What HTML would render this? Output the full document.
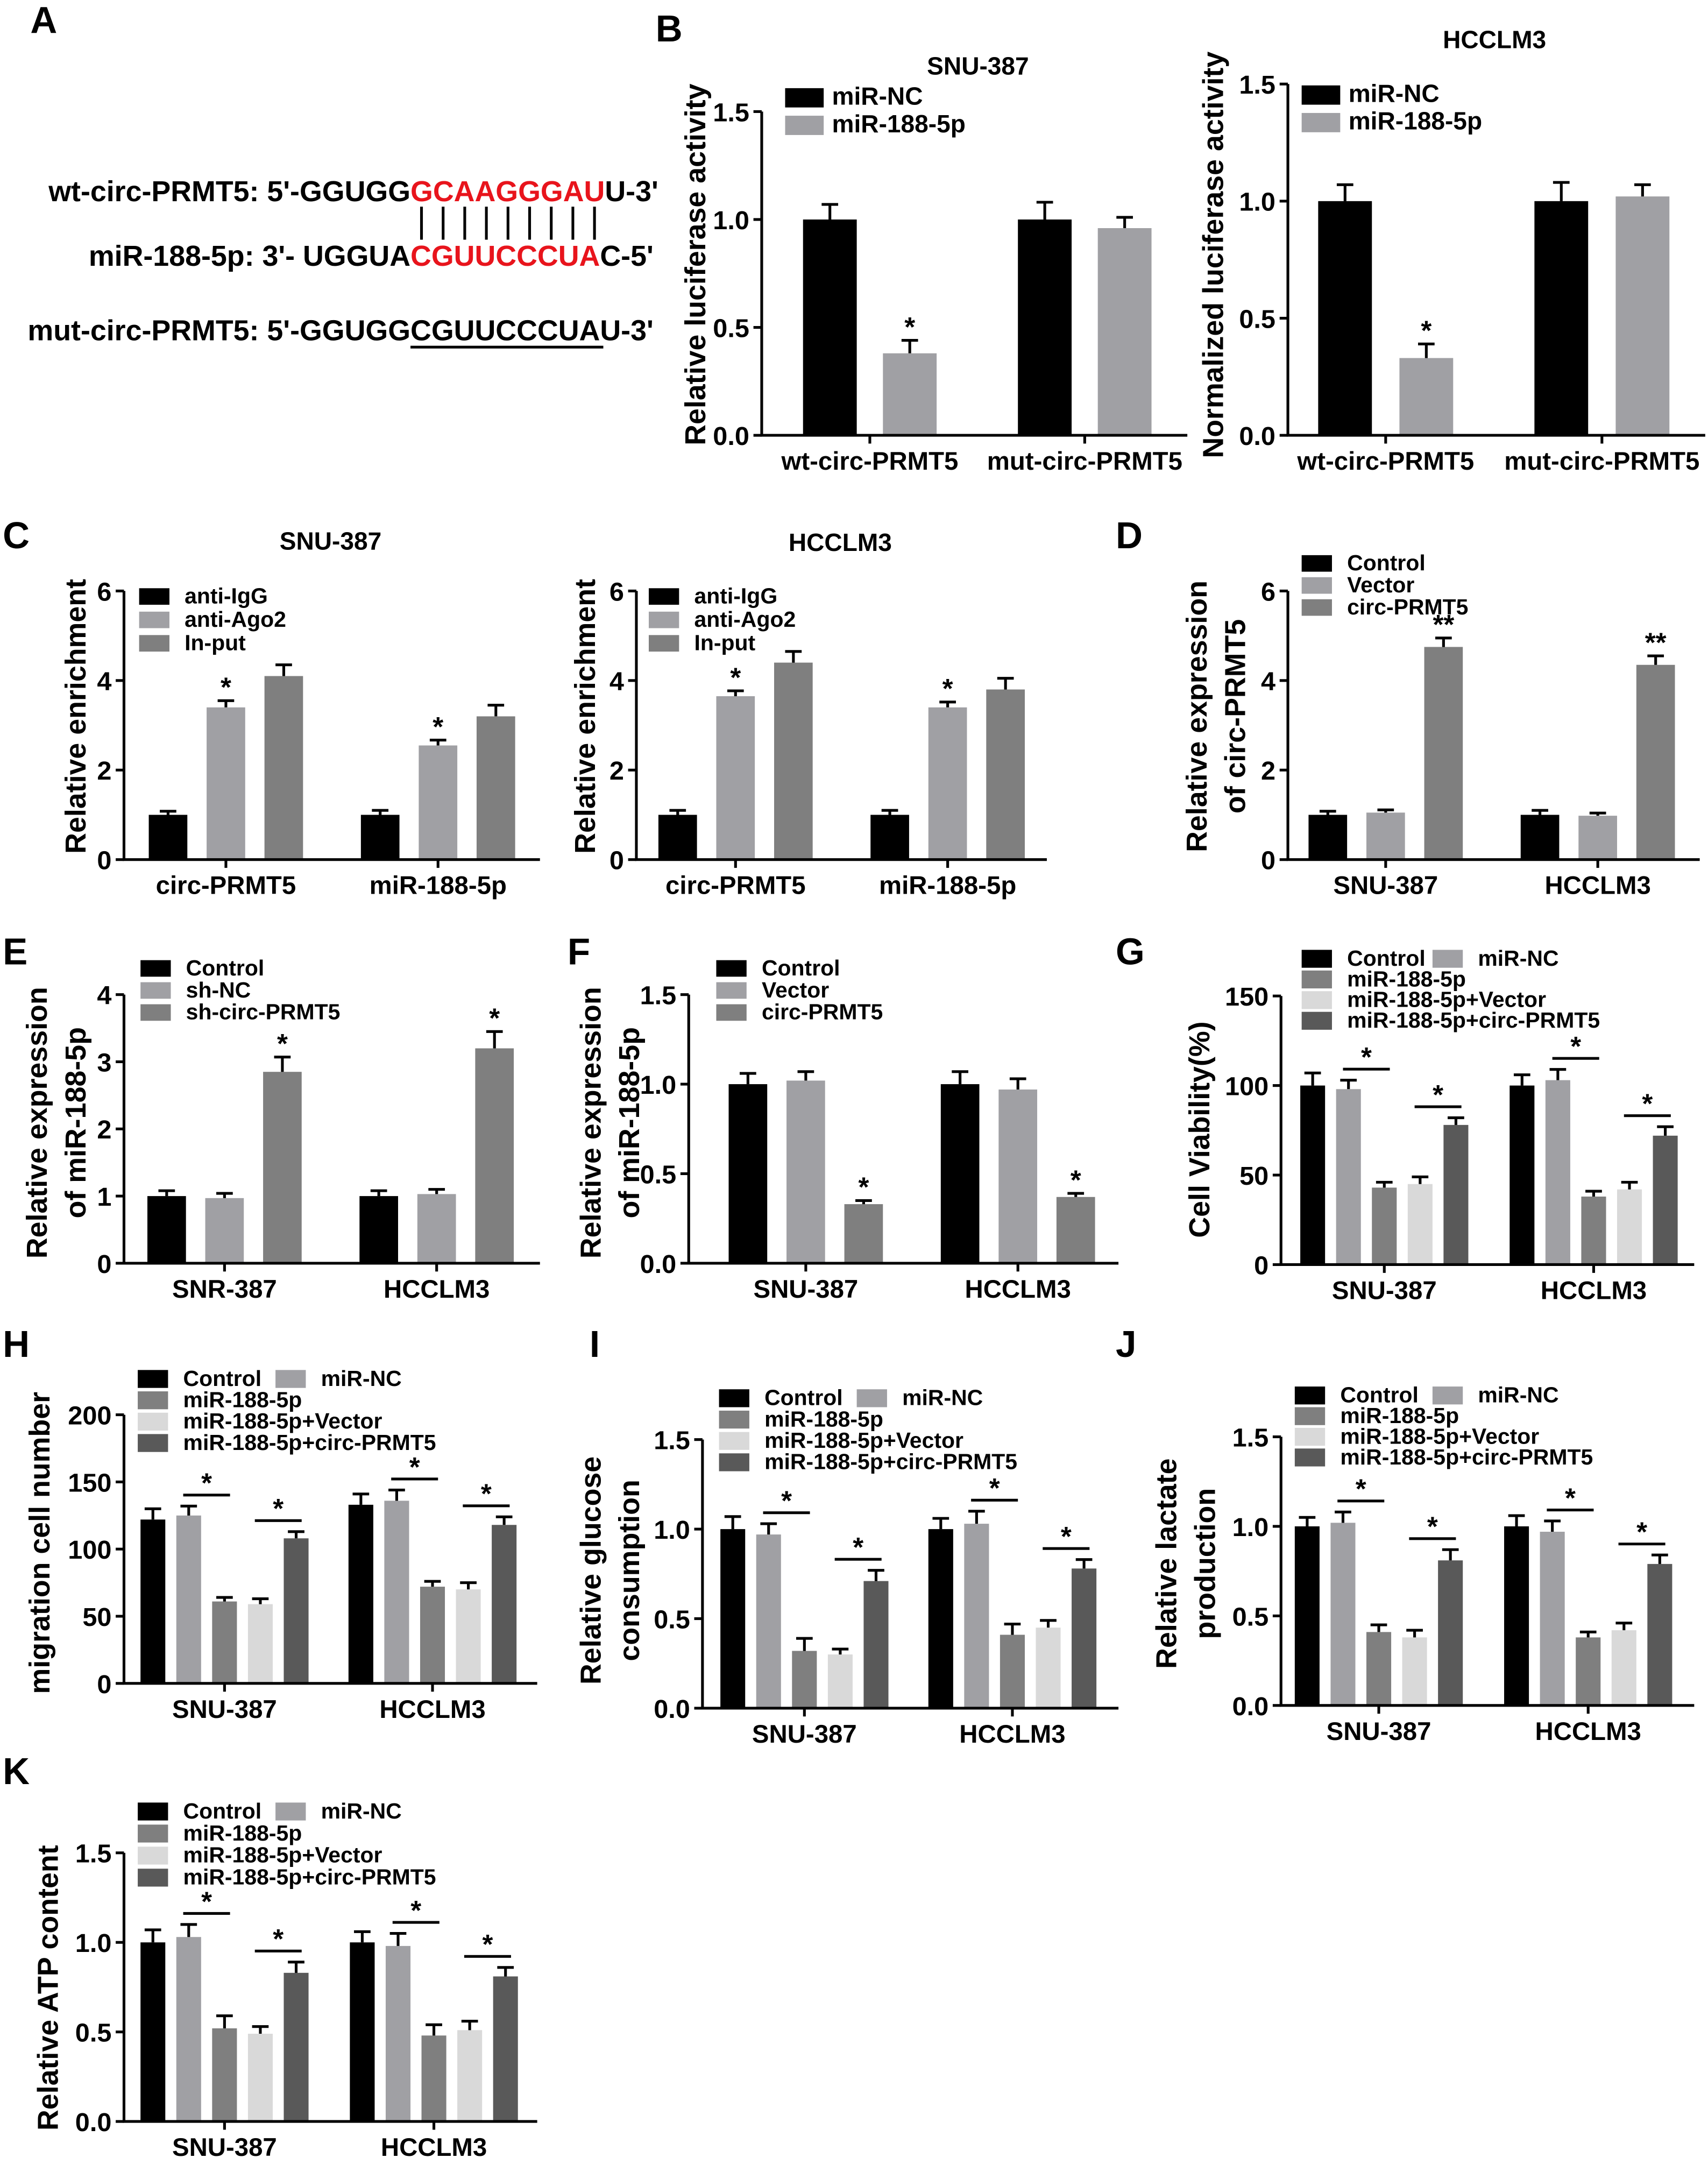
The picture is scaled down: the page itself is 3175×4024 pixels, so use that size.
<!DOCTYPE html>
<html><head><meta charset="utf-8"><style>
html,body{margin:0;padding:0;background:#fff}
svg{display:block}
text{font-family:"Liberation Sans",Arial,sans-serif;font-weight:bold;fill:#000}
</style></head><body>
<svg id="fig" width="3175" height="4024" viewBox="0 0 1240 1571.6" xmlns="http://www.w3.org/2000/svg">
<g font-size="21">
<text x="22" y="24" font-size="27">A</text>
<text x="298" y="146" text-anchor="end">wt-circ-PRMT5: 5'-GGUGG</text>
<text x="298" y="146"><tspan style="fill:#e8141c">GCAAGGGAU</tspan>U-3'</text>
<g id="pairs" stroke="#000" stroke-width="2"></g>
<text x="298" y="193" text-anchor="end">miR-188-5p: 3'- UGGUA</text>
<text x="298" y="193"><tspan style="fill:#e8141c">CGUUCCCUA</tspan>C-5'</text>
<text x="298" y="247" text-anchor="end">mut-circ-PRMT5: 5'-GGUGG</text>
<text x="298" y="247">CGUUCCCUAU-3'</text>
<line x1="298" y1="252" x2="438" y2="252" stroke="#000" stroke-width="2"/>
</g>
</svg>
<script>
const NS="http://www.w3.org/2000/svg";
const svg=document.getElementById('fig');
function mk(tag,attrs,parent){const e=document.createElementNS(NS,tag);for(const k in attrs)e.setAttribute(k,attrs[k]);(parent||svg).appendChild(e);return e;}
const pairs=document.getElementById('pairs');
for(let i=0;i<9;i++){const l=mk('line',{x1:306+i*15.7,x2:306+i*15.7,y1:150,y2:174},pairs);

}

const C2=['#000','#a0a0a4'];
const C3=['#000','#a0a0a4','#7f7f7f'];
const C5=['#000','#a0a0a4','#7f7f7f','#d9d9d9','#595959'];
const L5=['Control','miR-NC','miR-188-5p','miR-188-5p+Vector','miR-188-5p+circ-PRMT5'];

const bGroups=['wt-circ-PRMT5','mut-circ-PRMT5'];
const b1Vals=[[1.0,0.38],[1.0,0.96]]; const b1Err=[[0.07,0.06],[0.08,0.05]];
const b2Vals=[[1.0,0.33],[1.0,1.02]]; const b2Err=[[0.07,0.06],[0.08,0.05]];
const cGroups=['circ-PRMT5','miR-188-5p'];
const c1Vals=[[1.0,3.4,4.1],[1.0,2.55,3.2]]; const c1Err=[[0.08,0.15,0.25],[0.1,0.12,0.25]];
const c2Vals=[[1.0,3.65,4.4],[1.0,3.4,3.8]]; const c2Err=[[0.1,0.12,0.25],[0.1,0.12,0.25]];
const cellGroups=['SNU-387','HCCLM3'];
const dVals=[[1.0,1.05,4.75],[1.0,0.98,4.35]]; const dErr=[[0.08,0.06,0.2],[0.1,0.06,0.2]];
const eGroups=['SNR-387','HCCLM3'];
const eVals=[[1.0,0.97,2.85],[1.0,1.03,3.2]]; const eErr=[[0.08,0.07,0.22],[0.08,0.07,0.25]];
const fVals=[[1.0,1.02,0.33],[1.0,0.97,0.37]]; const fErr=[[0.06,0.05,0.02],[0.07,0.06,0.02]];
const gVals=[[100,98,43,45,78],[100,103,38,42,72]]; const gErr=[[7,5,3,4,4],[6,6,3,4,5]];
const hVals=[[122,125,61,59,108],[133,136,72,70,118]]; const hErr=[[8,7,3,4,5],[8,8,4,5,6]];
const iVals=[[1.0,0.97,0.32,0.30,0.71],[1.0,1.03,0.41,0.45,0.78]]; const iErr=[[0.07,0.06,0.07,0.03,0.06],[0.06,0.07,0.06,0.04,0.05]];
const jVals=[[1.0,1.02,0.41,0.38,0.81],[1.0,0.97,0.38,0.42,0.79]]; const jErr=[[0.05,0.06,0.04,0.04,0.06],[0.06,0.06,0.03,0.04,0.05]];
const kVals=[[1.0,1.03,0.52,0.49,0.83],[1.0,0.98,0.48,0.51,0.81]]; const kErr=[[0.07,0.07,0.07,0.04,0.06],[0.06,0.07,0.06,0.05,0.05]];
const t15=[0,0.5,1.0,1.5]; const t15L=['0.0','0.5','1.0','1.5'];
const t6=[0,2,4,6]; const t6L=['0','2','4','6'];
const t4=[0,1,2,3,4]; const t4L=['0','1','2','3','4'];
const t150=[0,50,100,150]; const t150L=['0','50','100','150'];
const t200=[0,50,100,150,200]; const t200L=['0','50','100','150','200'];

function chart(p){
  const g=mk('g',{});
  
  
  const ymax=p.ticks[p.ticks.length-1];
  const Y=v=>p.y0-(v/ymax)*(p.y0-p.ytop);
  p.vals.forEach((grp,gi)=>grp.forEach((v,si)=>{
    const x=p.gx[gi]+si*p.step;
    const r=mk('rect',{x:x,y:Y(v),width:p.bw,height:p.y0-Y(v),fill:p.colors[si]},g);
    
    
    const cx=x+p.bw/2, e=p.err[gi][si];
    const el=mk('path',{d:`M${cx} ${Y(v)} V${Y(v+e)} M${cx-6} ${Y(v+e)} H${cx+6}`,stroke:'#000','stroke-width':2,fill:'none'},g);
    
    
    const st=(p.stars[gi]||{})[si];
    if(st&&p.bw>25){
      const t=mk('text',{x:cx,y:Y(v+e)-3,'text-anchor':'middle','font-size':20},g);t.textContent=st;
      
      
    } else if(st){
      const xa=p.gx[gi]+(si-1)*p.step+p.bw/2-4;
      const ref=Math.max(v+e,grp[si-1]+p.err[gi][si-1]);
      const ly=Y(ref)-8;
      const ln=mk('line',{x1:xa,x2:cx+4,y1:ly,y2:ly,stroke:'#000','stroke-width':2},g);
      
      
      const t=mk('text',{x:(xa+cx+4)/2,y:ly-2,'text-anchor':'middle','font-size':20},g);t.textContent=st;
      
      
    }
  }));
  const ax=mk('path',{d:`M${p.ax} ${p.ytop} V${p.y0} H${p.xend}`,stroke:'#000','stroke-width':2,fill:'none'},g);
  
  
  p.ticks.forEach((t,i)=>{
    const tl=mk('line',{x1:p.ax-6,x2:p.ax,y1:Y(t),y2:Y(t),stroke:'#000','stroke-width':2},g);
    
    
    const tx=mk('text',{x:p.ax-9,y:Y(t)+7,'text-anchor':'end','font-size':19},g);tx.textContent=p.tickL[i];
    
    
  });
  p.groups.forEach((gn,gi)=>{
    const n=p.vals[gi].length, cx=p.gx[gi]+((n-1)*p.step+p.bw)/2;
    const tl=mk('line',{x1:cx,x2:cx,y1:p.y0,y2:p.y0+6,stroke:'#000','stroke-width':2},g);
    
    
    const tx=mk('text',{x:cx,y:p.y0+25,'text-anchor':'middle','font-size':18.5},g);tx.textContent=gn;
    
    
  });
  p.ylab.forEach((s,i)=>{
    const lx=p.ylx+i*28;
    const t=mk('text',{x:lx,y:p.ylc,'text-anchor':'middle','font-size':21,transform:`rotate(-90 ${lx} ${p.ylc})`},g);t.textContent=s;
    
    
  });
  if(p.title){const t=mk('text',{x:p.title[1],y:p.title[2],'text-anchor':'middle','font-size':18},g);t.textContent=p.title[0];
    
    }
  p.legend.forEach((it)=>{
    const r=mk('rect',{x:it[1],y:it[2]-it[4]/2-5,width:it[3]?28:22,height:it[4],fill:p.colors[it[0]]},g);
    
    
    const t=mk('text',{x:it[1]+(it[3]?34:33),y:it[2],'font-size':it[5]},g);t.textContent=it[6];
    
    
  });
  const L=mk('text',{x:p.letter[1],y:p.letter[2],'font-size':27},g);L.textContent=p.letter[0];
  
  
}
function leg5(x,y,x2,dy){return [[0,x,y,0,13,16,L5[0]],[1,x2,y,0,13,16,L5[1]],[2,x,y+dy,0,13,16,L5[2]],[3,x,y+2*dy,0,13,16,L5[3]],[4,x,y+3*dy,0,13,16,L5[4]]];}
function leg3(x,y,dy,labels){return labels.map((l,i)=>[i,x,y+i*dy,0,12,16,l]);}

chart({name:'chart-b-snu387',vals:b1Vals,err:b1Err,groups:bGroups,colors:C2,gx:[583,739],step:58,bw:39,ax:553,xend:862,y0:316,ytop:81,ticks:t15,tickL:t15L,stars:[{1:'*'}],ylab:['Relative luciferase activity'],ylx:512,ylc:192,title:['SNU-387',710,54],legend:[[0,570,76,1,14,18,'miR-NC'],[1,570,96,1,14,18,'miR-188-5p']],letter:['B',476,30]});
chart({name:'chart-b-hcclm3',vals:b2Vals,err:b2Err,groups:bGroups,colors:C2,gx:[957,1114],step:59,bw:39,ax:935,xend:1238,y0:316,ytop:61,ticks:t15,tickL:t15L,stars:[{1:'*'}],ylab:['Normalized luciferase activity'],ylx:888,ylc:185,title:['HCCLM3',1085,35],legend:[[0,945,74,1,14,18,'miR-NC'],[1,945,94,1,14,18,'miR-188-5p']],letter:['',0,0]});
chart({name:'chart-c-snu387',vals:c1Vals,err:c1Err,groups:cGroups,colors:C3,gx:[108,262],step:42,bw:28,ax:90,xend:392,y0:624,ytop:429,ticks:t6,tickL:t6L,stars:[{1:'*'},{1:'*'}],ylab:['Relative enrichment'],ylx:62,ylc:520,title:['SNU-387',240,399],legend:leg3(101,438,17,['anti-IgG','anti-Ago2','In-put']),letter:['C',2,398]});
chart({name:'chart-c-hcclm3',vals:c2Vals,err:c2Err,groups:cGroups,colors:C3,gx:[478,632],step:42,bw:28,ax:462,xend:760,y0:624,ytop:429,ticks:t6,tickL:t6L,stars:[{1:'*'},{1:'*'}],ylab:['Relative enrichment'],ylx:432,ylc:520,title:['HCCLM3',610,400],legend:leg3(471,438,17,['anti-IgG','anti-Ago2','In-put']),letter:['',0,0]});
chart({name:'chart-d',vals:dVals,err:dErr,groups:cellGroups,colors:C3,gx:[950,1104],step:42,bw:28,ax:935,xend:1234,y0:624,ytop:429,ticks:t6,tickL:t6L,stars:[{2:'**'},{2:'**'}],ylab:['Relative expression','of circ-PRMT5'],ylx:876,ylc:520,legend:leg3(945,414,16,['Control','Vector','circ-PRMT5']),letter:['D',810,398]});
chart({name:'chart-e',vals:eVals,err:eErr,groups:eGroups,colors:C3,gx:[107,261],step:42,bw:28,ax:90,xend:392,y0:917,ytop:722,ticks:t4,tickL:t4L,stars:[{2:'*'},{2:'*'}],ylab:['Relative expression','of miR-188-5p'],ylx:34,ylc:815,legend:leg3(102,708,16,['Control','sh-NC','sh-circ-PRMT5']),letter:['E',2,700]});
chart({name:'chart-f',vals:fVals,err:fErr,groups:cellGroups,colors:C3,gx:[529,683],step:42,bw:28,ax:500,xend:812,y0:917,ytop:722,ticks:t15,tickL:t15L,stars:[{2:'*'},{2:'*'}],ylab:['Relative expression','of miR-188-5p'],ylx:436,ylc:815,legend:leg3(520,708,16,['Control','Vector','circ-PRMT5']),letter:['F',412,700]});
chart({name:'chart-g',vals:gVals,err:gErr,groups:cellGroups,colors:C5,gx:[944,1096],step:26,bw:18,ax:930,xend:1230,y0:918,ytop:723,ticks:t150,tickL:t150L,stars:[{2:'*',4:'*'},{2:'*',4:'*'}],ylab:['Cell Viability(%)'],ylx:878,ylc:820,legend:leg5(945,701,1040,15),letter:['G',810,700]});
chart({name:'chart-h',vals:hVals,err:hErr,groups:cellGroups,colors:C5,gx:[102,253],step:26,bw:18,ax:90,xend:390,y0:1222,ytop:1027,ticks:t200,tickL:t200L,stars:[{2:'*',4:'*'},{2:'*',4:'*'}],ylab:['migration cell number'],ylx:36,ylc:1120,legend:leg5(100,1006,200,15.5),letter:['H',2,985]});
chart({name:'chart-i',vals:iVals,err:iErr,groups:cellGroups,colors:C5,gx:[523,674],step:26,bw:18,ax:510,xend:812,y0:1240,ytop:1045,ticks:t15,tickL:t15L,stars:[{2:'*',4:'*'},{2:'*',4:'*'}],ylab:['Relative glucose','consumption'],ylx:436,ylc:1140,legend:leg5(522,1020,622,15.5),letter:['I',428,985]});
chart({name:'chart-j',vals:jVals,err:jErr,groups:cellGroups,colors:C5,gx:[940,1092],step:26,bw:18,ax:930,xend:1230,y0:1238,ytop:1043,ticks:t15,tickL:t15L,stars:[{2:'*',4:'*'},{2:'*',4:'*'}],ylab:['Relative lactate','production'],ylx:854,ylc:1135,legend:leg5(940,1018,1040,15),letter:['J',810,985]});
chart({name:'chart-k',vals:kVals,err:kErr,groups:cellGroups,colors:C5,gx:[102,254],step:26,bw:18,ax:90,xend:390,y0:1540,ytop:1345,ticks:t15,tickL:t15L,stars:[{2:'*',4:'*'},{2:'*',4:'*'}],ylab:['Relative ATP content'],ylx:42,ylc:1443,legend:leg5(100,1320,200,16),letter:['K',2,1295]});
</script>
</body></html>
